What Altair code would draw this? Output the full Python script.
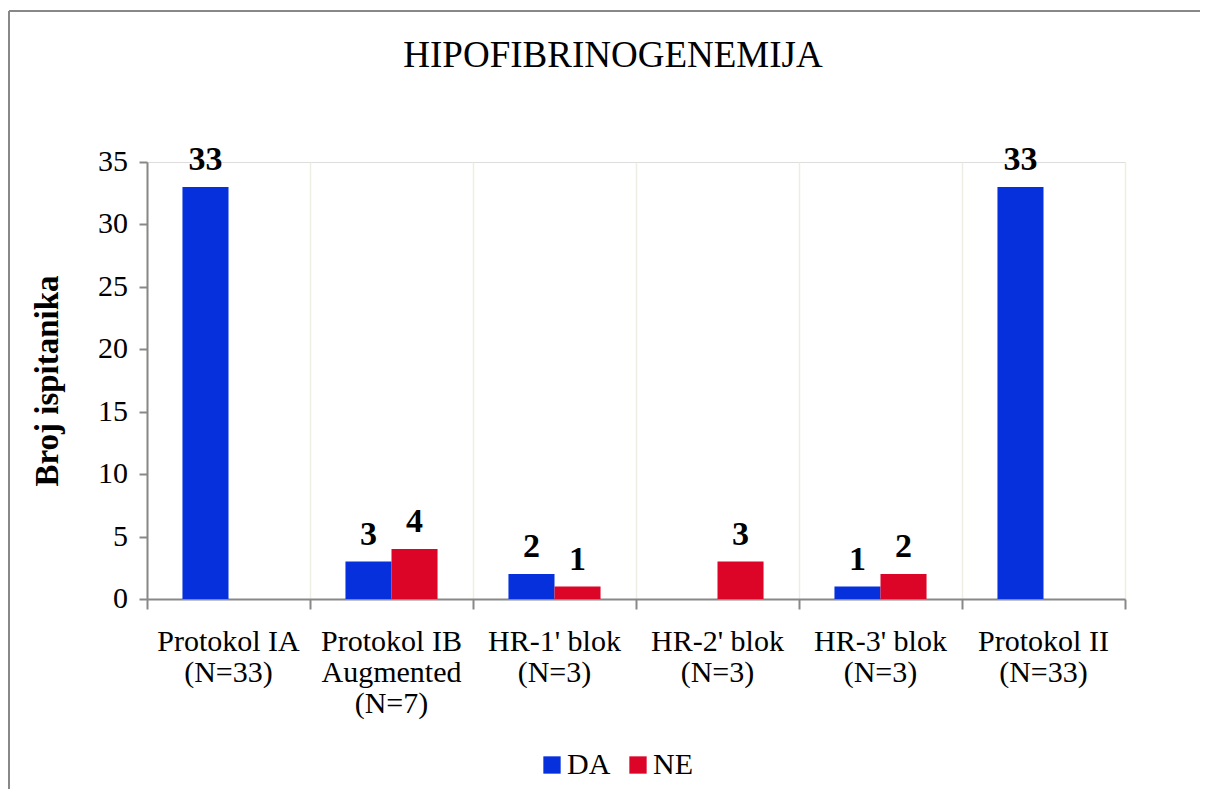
import altair as alt
import pandas as pd

categories = [
    "Protokol IA|(N=33)",
    "Protokol IB|Augmented|(N=7)",
    "HR-1' blok|(N=3)",
    "HR-2' blok|(N=3)",
    "HR-3' blok|(N=3)",
    "Protokol II|(N=33)",
]
series = ["DA", "NE"]
da_values = [33, 3, 2, 0, 1, 33]
ne_values = [0, 4, 1, 3, 2, 0]
y_ticks = [0, 5, 10, 15, 20, 25, 30, 35]
colors = ["#0530DC", "#DC0528"]
chart_title = "HIPOFIBRINOGENEMIJA"

rows = []
for c, d, n in zip(categories, da_values, ne_values):
    rows.append({"cat": c, "series": "DA", "value": d})
    rows.append({"cat": c, "series": "NE", "value": n})
df = pd.DataFrame(rows)
cat_df = pd.DataFrame({"cat": categories})
tick_df = pd.DataFrame({"value": y_ticks})

FONT = "Liberation Serif"

x_scale = alt.Scale(domain=categories, paddingInner=0, paddingOuter=0)
y_scale = alt.Scale(domain=[0, 35], nice=False)

x = alt.X(
    "cat:N",
    sort=categories,
    scale=x_scale,
    axis=alt.Axis(
        title=None,
        labels=False,
        tickBand="extent",
        grid=True,
        gridColor="#EDEDE4",
        gridWidth=1.5,
        domainColor="#888888",
        domainWidth=2,
        tickColor="#888888",
        tickWidth=2,
        tickSize=10,
    ),
)
xoff = alt.XOffset("series:N", scale=alt.Scale(domain=series, paddingInner=0, paddingOuter=0.77))
y = alt.Y(
    "value:Q",
    scale=y_scale,
    axis=alt.Axis(
        title="Broj ispitanika",
        titleFont=FONT,
        titleFontSize=33,
        titleFontWeight="bold",
        titleColor="black",
        titlePadding=74,
        values=y_ticks,
        labels=False,
        grid=False,
        domainColor="#888888",
        domainWidth=2,
        tickColor="#888888",
        tickWidth=2,
        tickSize=8,
    ),
)

bars = alt.Chart(df).mark_bar().encode(
    x=x,
    xOffset=xoff,
    y=y,
    color=alt.Color(
        "series:N",
        scale=alt.Scale(domain=series, range=colors),
        legend=alt.Legend(
            title=None,
            orient="none",
            direction="horizontal",
            legendX=390,
            legendY=588,
            symbolType="square",
            symbolSize=300,
            symbolStrokeWidth=0,
            labelFont=FONT,
            labelFontSize=30,
            labelColor="black",
            columnPadding=12,
            labelOffset=0,
        ),
    ),
)

value_labels = alt.Chart(df).transform_filter("datum.value > 0").mark_text(
    font=FONT, fontSize=34, fontWeight="bold", baseline="bottom", dy=-10, color="black"
).encode(
    x=alt.X("cat:N", sort=categories),
    xOffset=alt.XOffset("series:N"),
    y="value:Q",
    text="value:Q",
)

x_labels = alt.Chart(cat_df).mark_text(
    font=FONT, fontSize=30, color="black", align="center", baseline="alphabetic",
    lineBreak="|", lineHeight=31,
).encode(
    x=alt.X("cat:N", sort=categories),
    y=alt.value(489),
    text="cat:N",
)

y_labels = alt.Chart(tick_df).mark_text(
    font=FONT, fontSize=30, color="black", align="right", baseline="middle",
).encode(
    x=alt.value(-19),
    y=alt.Y("value:Q"),
    text="value:Q",
)

title_mark = alt.Chart(pd.DataFrame({"t": [chart_title]})).mark_text(
    font=FONT, fontSize=37, color="black", align="center", baseline="alphabetic"
).encode(x=alt.value(466), y=alt.value(-95), text="t:N")

frame_data = pd.DataFrame({"k": [0]})
top_border = alt.Chart(frame_data).mark_rule(color="#888888", strokeWidth=2).encode(
    x=alt.value(-138), x2=alt.value(1070), y=alt.value(-151)
)
left_border = alt.Chart(frame_data).mark_rule(color="#888888", strokeWidth=2).encode(
    x=alt.value(-138), y=alt.value(-151), y2=alt.value(650)
)

chart = (
    alt.layer(bars, value_labels, x_labels, y_labels, title_mark, top_border, left_border)
    .properties(
        width=978,
        height=437,
        autosize=alt.AutoSizeParams(type="none"),
        padding={"left": 139, "top": 154, "right": 75, "bottom": 190},
    )
    .configure_view(stroke=None)
    .configure(background="white", font=FONT)
)

chart.save("out.html", embed_options={"renderer": "svg", "actions": False})
